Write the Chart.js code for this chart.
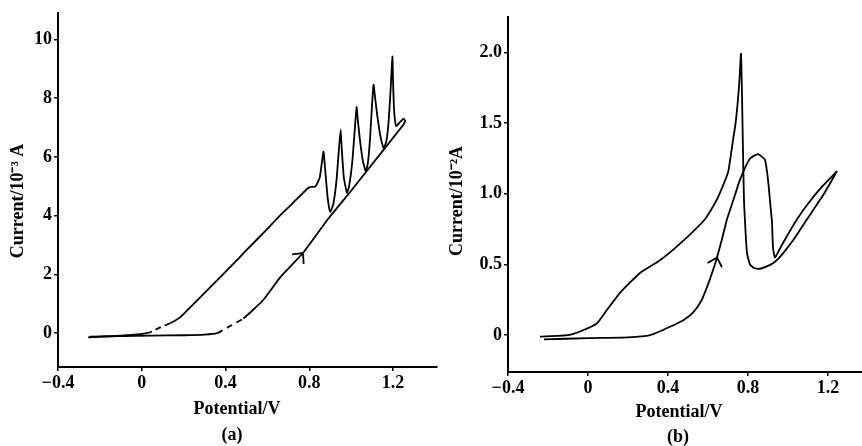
<!DOCTYPE html>
<html>
<head>
<meta charset="utf-8">
<script src="https://cdn.jsdelivr.net/npm/chart.js@4.4.1/dist/chart.umd.min.js"></script>
<style>
  html, body { margin: 0; padding: 0; background: #fff; overflow: hidden; }
  #wrap { position: relative; width: 862px; height: 446px; }
  canvas { position: absolute; top: 0; }
  #chartA { left: 0; }
  #chartB { left: 446px; }
</style>
</head>
<body>
<div id="wrap">
  <canvas id="chartA" width="446" height="446"></canvas>
  <canvas id="chartB" width="416" height="446"></canvas>
</div>
<script>
// tick labels
const potentialTicks = [-0.4, 0, 0.4, 0.8, 1.2]
const currentTicksA = [0, 2, 4, 6, 8, 10]
const currentTicksB = [0, 0.5, 1.0, 1.5, 2.0]

// (a) forward scan, potential (V) / current (10^-3 A)
const fwdPotA = [-0.25, -0.1, 0.05, 0.2, 0.3, 0.36, 0.41, 0.485, 0.58, 0.662, 0.77, 0.887, 1.0, 1.1, 1.2, 1.25]
const fwdCurA = [-0.12, -0.1, -0.08, -0.07, -0.05, 0.0, 0.2, 0.5, 1.13, 1.91, 2.73, 3.86, 4.85, 5.75, 6.65, 7.1]
// (a) reverse scan with the oscillations
const revPotA = [1.25, 1.258, 1.25, 1.235, 1.215, 1.205, 1.2, 1.197, 1.19, 1.18, 1.17, 1.16, 1.155,
  1.14, 1.125, 1.113, 1.107, 1.1, 1.09, 1.08, 1.07,
  1.055, 1.04, 1.03, 1.026, 1.018, 1.005, 0.99, 0.98,
  0.965, 0.955, 0.95, 0.942, 0.93, 0.915, 0.90,
  0.888, 0.878, 0.868, 0.86, 0.85, 0.83, 0.81, 0.796,
  0.72, 0.648, 0.6, 0.5, 0.45, 0.375, 0.28, 0.184, 0.136, 0.088, 0.04, -0.05, -0.256]
const revCurA = [7.1, 7.22, 7.3, 7.2, 7.05, 7.6, 8.6, 9.42, 8.5, 7.3, 6.6, 6.35, 6.3,
  6.7, 7.4, 8.1, 8.46, 7.8, 6.6, 5.8, 5.5,
  5.9, 6.7, 7.4, 7.7, 7.0, 5.8, 5.0, 4.78,
  5.3, 6.3, 6.93, 6.3, 5.2, 4.4, 4.13,
  4.6, 5.4, 6.18, 5.8, 5.3, 5.0, 4.98, 4.95,
  4.42, 3.92, 3.55, 2.83, 2.45, 1.91, 1.23, 0.55, 0.34, 0.2, 0.03, -0.06, -0.14]

// (b) forward scan, potential (V) / current (10^-2 A)
const fwdPotB = [-0.22, 0.0, 0.2, 0.31, 0.41, 0.48, 0.525, 0.565, 0.595, 0.625, 0.645, 0.67, 0.695, 0.73,
  0.76, 0.81, 0.85, 0.885, 0.9, 0.912, 0.92, 0.925, 0.935, 0.97, 1.045, 1.1, 1.17, 1.245]
const fwdCurB = [-0.03, -0.02, -0.015, 0.0, 0.06, 0.11, 0.16, 0.24, 0.34, 0.46, 0.55, 0.68, 0.82, 0.97,
  1.1, 1.25, 1.28, 1.24, 1.1, 0.92, 0.8, 0.62, 0.55, 0.64, 0.82, 0.93, 1.05, 1.16]
// (b) reverse scan
const revPotB = [1.245, 1.18, 1.095, 1.03, 0.97, 0.935, 0.9, 0.86, 0.83, 0.81,
  0.795, 0.787, 0.78, 0.775, 0.77, 0.765, 0.757, 0.75, 0.738, 0.725,
  0.70, 0.645, 0.585, 0.47, 0.36, 0.26, 0.16, 0.095, 0.045, -0.025, -0.1, -0.24]
const revCurB = [1.16, 1.0, 0.82, 0.68, 0.57, 0.52, 0.49, 0.47, 0.475, 0.5,
  0.58, 0.75, 0.95, 1.3, 1.7, 1.99, 1.8, 1.67, 1.5, 1.38,
  1.15, 0.96, 0.82, 0.66, 0.53, 0.44, 0.30, 0.18, 0.085, 0.035, 0.0, -0.01]

// index of the forward-scan point carrying the direction arrow
const arrowIndexA = 10
const arrowIndexB = 10

const FONT = '"Liberation Serif", "Times New Roman", serif'

const toPoints = (xs, ys) => xs.map((x, i) => ({ x: x, y: ys[i] }))

const fmtPotential = (v) => v === 0 ? '0' : (v < 0 ? '\u2212' + Math.abs(v).toFixed(1) : v.toFixed(1))

// chevron on the forward scan
const arrowPlugin = {
  id: 'scanArrow',
  afterDatasetsDraw(chart, args, opts) {
    const pts = chart.getDatasetMeta(0).data
    const p = pts[opts.index], a = pts[opts.index - 1], b = pts[opts.index + 1]
    const ang = Math.atan2(b.y - a.y, b.x - a.x)
    const ctx = chart.ctx
    ctx.save()
    ctx.strokeStyle = '#000'
    ctx.lineWidth = 1.8
    ctx.beginPath()
    ctx.moveTo(p.x - 11 * Math.cos(ang - 0.75), p.y - 11 * Math.sin(ang - 0.75))
    ctx.lineTo(p.x, p.y)
    ctx.lineTo(p.x - 11 * Math.cos(ang + 0.75), p.y - 11 * Math.sin(ang + 0.75))
    ctx.stroke()
    ctx.restore()
  }
}

// axis captions and panel letter
const captionPlugin = {
  id: 'captions',
  afterDraw(chart, args, opts) {
    const ctx = chart.ctx
    ctx.save()
    ctx.fillStyle = '#000'
    ctx.font = 'bold 18px ' + FONT
    ctx.textAlign = 'center'
    ctx.textBaseline = 'middle'
    opts.lines.forEach((l) => ctx.fillText(l.text, l.x, l.y))
    ctx.translate(opts.yTitle.x, opts.yTitle.y)
    ctx.rotate(-Math.PI / 2)
    ctx.fillText(opts.yTitle.text, 0, 0)
    ctx.restore()
  }
}

function makeChart(id, cfg) {
  const axisCommon = {
    type: 'linear',
    grid: { display: true, drawOnChartArea: false, drawTicks: true, tickLength: 4, color: '#000', lineWidth: 1.5 },
    border: { display: true, color: '#000', width: 2 },
  }
  return new Chart(document.getElementById(id), {
    type: 'scatter',
    data: {
      datasets: [
        { data: toPoints(cfg.fwdX, cfg.fwdY), showLine: true, borderColor: '#000', borderWidth: 1.8,
          pointRadius: 0, tension: 0.15, segment: cfg.fwdSegment || {} },
        { data: toPoints(cfg.revX, cfg.revY), showLine: true, borderColor: '#000', borderWidth: 1.8,
          pointRadius: 0, tension: 0.15, segment: cfg.revSegment || {} },
      ]
    },
    options: {
      responsive: false,
      animation: false,
      events: [],
      layout: { padding: { top: cfg.padTop, right: cfg.padRight, left: 0, bottom: 0 } },
      plugins: {
        legend: { display: false },
        tooltip: { enabled: false },
        scanArrow: { index: cfg.arrowIndex },
        captions: cfg.captions,
      },
      scales: {
        x: {
          ...axisCommon,
          min: -0.4,
          max: cfg.xMax,
          afterBuildTicks: (s) => { s.ticks = potentialTicks.map((v) => ({ value: v })) },
          afterFit: (s) => { s.height = cfg.xHeight },
          ticks: { callback: fmtPotential, color: '#000', padding: 2, maxRotation: 0, autoSkip: false,
                   font: { family: FONT, size: 18, weight: 'bold' } },
        },
        y: {
          ...axisCommon,
          min: cfg.yMin,
          max: cfg.yMax,
          afterBuildTicks: (s) => { s.ticks = cfg.yTicks.map((v) => ({ value: v })) },
          afterFit: (s) => { s.width = cfg.yWidth },
          ticks: { callback: cfg.yFmt, color: '#000', padding: 2, autoSkip: false,
                   font: { family: FONT, size: 18, weight: 'bold' } },
        },
      },
    },
    plugins: [arrowPlugin, captionPlugin],
  })
}

const gapDash = (lo, hi, dash) => ({
  borderDash: (ctx) => (ctx.p0.parsed.x >= lo && ctx.p0.parsed.x < hi ? dash : undefined)
})

makeChart('chartA', {
  fwdX: fwdPotA, fwdY: fwdCurA, revX: revPotA, revY: revCurA,
  fwdSegment: gapDash(0.36, 0.485, [6, 5]),
  revSegment: gapDash(0.088, 0.184, [6, 4]),
  yTicks: currentTicksA, yMin: -1.15, yMax: 10.9, xMax: 1.41,
  yFmt: (v) => String(v),
  padTop: 13, padRight: 9, yWidth: 58, xHeight: 79,
  arrowIndex: arrowIndexA,
  captions: {
    lines: [{ text: 'Potential/V', x: 237, y: 409 }, { text: '(a)', x: 232, y: 435 }],
    yTitle: { text: 'Current/10\u207B\u00B3 A', x: 18, y: 201 },
  },
})

makeChart('chartB', {
  fwdX: fwdPotB, fwdY: fwdCurB, revX: revPotB, revY: revCurB,
  yTicks: currentTicksB, yMin: -0.26, yMax: 2.25, xMax: 1.37,
  yFmt: (v) => (v === 0 ? '0' : v.toFixed(1)),
  padTop: 17, padRight: 0, yWidth: 62, xHeight: 74,
  arrowIndex: arrowIndexB,
  captions: {
    lines: [{ text: 'Potential/V', x: 233, y: 412 }, { text: '(b)', x: 232, y: 437 }],
    yTitle: { text: 'Current/10\u207B\u00B2A', x: 11, y: 201 },
  },
})
</script>
</body>
</html>
